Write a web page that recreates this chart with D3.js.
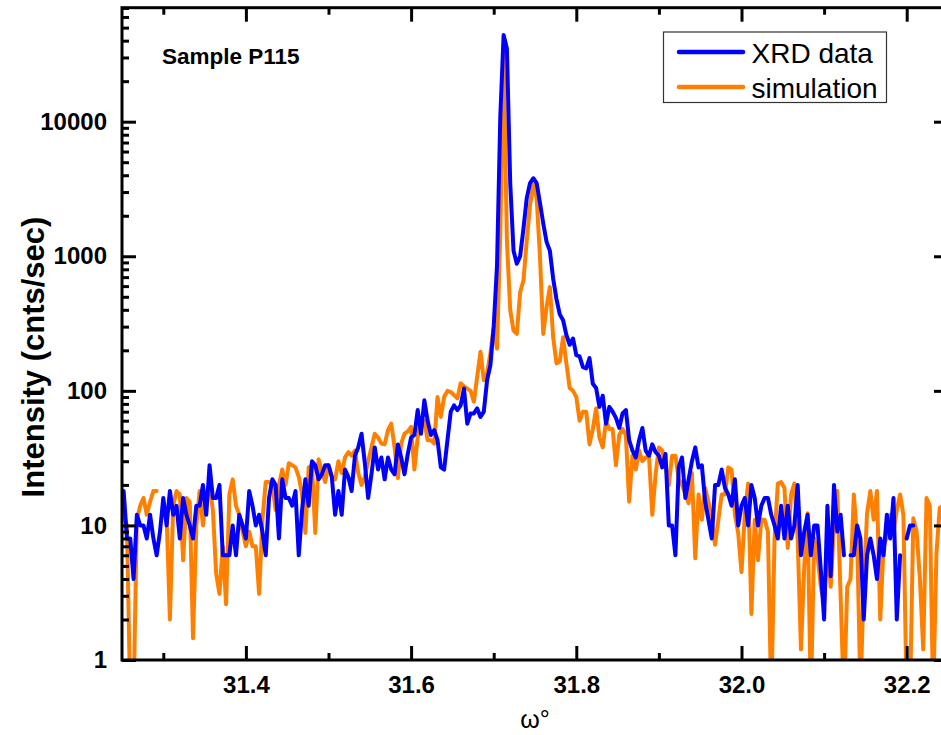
<!DOCTYPE html>
<html>
<head>
<meta charset="utf-8">
<script src="https://cdn.jsdelivr.net/npm/d3@7/dist/d3.min.js"></script>
<style>
  html, body { margin: 0; padding: 0; background: #fff; }
  svg { display: block; }
  text { font-family: "Liberation Sans", Arial, Helvetica, sans-serif; }
</style>
</head>
<body>
<svg id="chart" width="941" height="735"></svg>
<script>
// ω scan: first point and step (degrees)
const scanStart = 31.252;
const scanStep = 0.004;

// Measured XRD intensity (cnts/sec); null = zero counts
const xrdData = [
  18, 8, 8, 4, 12, 10, 10, 8, 12, 8,
  6, 9, 16, 10, 18, 12, 14, 8, 16, 12,
  10, 8, 14, 14, 20, 12, 28, 16, 16, 20,
  6, 6, 6, 10, 6, 12, 10, 8, 18, 14,
  10, 12, 9, 6, 16, 22, 20, 8, 22, 16,
  16, 14, 18, 6, 13, 22, 14, 30, 28, 22,
  24, 28, 28, 23, 12, 18, 12, 26, 23, 18,
  33, 38, 48, 29, 16, 24, 38, 26, 32, 22,
  32, 26, 24, 40, 32, 24, 34, 45, 47, 72,
  48, 85, 60, 47, 51, 43, 27, 26, 43, 70,
  78, 72, 78, 104, 57, 68, 68, 74, 64, 70,
  120, 155, 300, 850, 11000, 44000, 35000, 3500, 1100, 880,
  1000, 1600, 2700, 3500, 3800, 3500, 2500, 1750, 1280, 1100,
  680, 480, 370, 335, 260, 220, 245, 184, 180, 150,
  147, 175, 113, 105, 76, 92, 57, 76, 70, 63,
  53, 68, 72, 43, 36, 32, 43, 53, 36, 33,
  40, 35, 33, 27, 34, 10, 10, 6, 27, 32,
  16, 22, 30, 38, 27, 28, 15, 11, 8, 20,
  20, 26, 19, 17, 14, 22, 10, 14, 16, 10,
  20, 16, 10, 14, 16, 16, 12, 10, 8, 14,
  8, 14, 8, 10, 20, 6, 9, 12, 6, 10,
  10, 4.7, 2, 14, 4.2, 20, 9, 12, 6, null,
  6, 6, 10, 8, 2, 6, 8, 6, 4, 8,
  6, 12, 8, 16, 2, 6, null, 8, 10, 10
];

// Simulated intensity (cnts/sec); null = zero
const simData = [
  12, 10, 0.5, 0.5, 11, 14, 16, 12, 15, 18,
  18, null, 13, 12, 2, 14, 18, 17, 5.5, 16,
  15, 1.45, 10, 18, 10, 17, 20, 13, 4.4, 3.1,
  7, 2.6, 17, 22, 14, 12, 9, 7, 9, 7,
  7, 3.1, 11, 21, 21, 20, 13, 20, 26, 20,
  29, 28, 27, 23, 17, 8.8, 27, 28, 8.8, 31,
  25, 21, 28, 23, 22, 30, 24.5, 32, 35, 33,
  36, 24.5, 20, 23, 30, 38, 48, 45, 40.5, 40,
  51, 57, 38, 22.5, 40.5, 48, 50, 54, 26, 45,
  60, 60, 43, 43, 40.5, 90, 64, 90, 100, 98,
  93, 88, 114, 108, 104, 100, 83, 127, 195, 120,
  135, 190, 300, 206, 1500, 32000, 1300, 400, 280, 265,
  540, 660, 1300, 2400, 3400, 2700, 1000, 265, 420, 590,
  250, 160, 165, 250, 160, 105, 100, 90, 60, 70,
  70, 40, 52, 74, 45, 38, 60, 52, 52, 28,
  47, 52, 47, 15, 33, 26, 36, 30, 32, 33,
  12, 24, 38, 36, 28, 20, 33, 33, 22, 20,
  17, 14.6, 24.5, 5.7, 17, 11, 19, 15, 11, 7.2,
  11, 17, 17, 27, 26, 12, 8.8, 4.5, 12, 20.5,
  2.2, 11, 5.5, 11, 11, 9, 0.5, 8, 20.5, 21,
  19, 6.8, 17, 20.5, 8, 1.2, 5, 12.3, 0.5, 8,
  6, 3.5, 2.6, 7, 3.5, 10, 18, 3, 0.5, 3.5,
  4, 17, 8, 0.6, 3.5, 12.3, 18, 11, 18, 2,
  7, 8.2, 12, 9, 13, 17, 12, 0.5, 0.5, 11.3,
  9, 4, 1.2, 16, 14, 0.5, 6.2, 13.5, 14
];

// Axis ticks
const xMajorTicks = [31.4, 31.6, 31.8, 32.0, 32.2];
const xMinorTicks = [31.3, 31.5, 31.7, 31.9, 32.1];
const yMajorTicks = [1, 10, 100, 1000, 10000];
const yMinorTicks = [2, 3, 4, 5, 6, 7, 8, 9,
  20, 30, 40, 50, 60, 70, 80, 90,
  200, 300, 400, 500, 600, 700, 800, 900,
  2000, 3000, 4000, 5000, 6000, 7000, 8000, 9000,
  20000, 30000, 40000, 50000, 60000, 70000];

const seriesNames = ["XRD data", "simulation"];
const seriesColors = ["#0000ff", "#ff8000"];

const svg = d3.select("#chart");
const plot = { left: 122, right: 948, top: 7.7, bottom: 660 };

const x = d3.scaleLinear().domain([31.25, 32.25]).range([plot.left, plot.right]);
const y = d3.scaleLog().domain([1, 70300]).range([plot.bottom, plot.top]);

const toPoints = arr => arr.map((v, i) => ({ w: scanStart + i * scanStep, v }));

svg.append("rect").attr("width", 941).attr("height", 735).attr("fill", "#fff");

svg.append("defs").append("clipPath").attr("id", "plotClip")
  .append("rect")
  .attr("x", plot.left).attr("y", plot.top)
  .attr("width", plot.right - plot.left).attr("height", plot.bottom - plot.top);

const line = d3.line()
  .defined(d => d.v != null && d.v > 0)
  .x(d => x(d.w))
  .y(d => y(d.v));

const lines = svg.append("g").attr("clip-path", "url(#plotClip)");
// simulation underneath, measured data on top
lines.append("path")
  .datum(toPoints(simData))
  .attr("d", line)
  .attr("fill", "none")
  .attr("stroke", seriesColors[1])
  .attr("stroke-width", 4)
  .attr("stroke-linejoin", "round")
  .attr("stroke-linecap", "round");
lines.append("path")
  .datum(toPoints(xrdData))
  .attr("d", line)
  .attr("fill", "none")
  .attr("stroke", seriesColors[0])
  .attr("stroke-width", 4)
  .attr("stroke-linejoin", "round")
  .attr("stroke-linecap", "round");

// Axes (ticks point inward)
function styleAxis(g) {
  g.select(".domain").remove();
  g.selectAll(".tick line").attr("stroke", "#000").attr("stroke-width", 3);
}
const fmtX = d3.format(".1f");
const fmtY = d3.format("d");

// bottom
svg.append("g").attr("transform", `translate(0,${plot.bottom})`)
  .call(d3.axisBottom(x).tickValues(xMajorTicks).tickSize(-14).tickPadding(15.5).tickFormat(fmtX))
  .call(styleAxis)
  .call(g => g.selectAll(".tick text")
    .attr("fill", "#000").attr("font-size", 24).attr("font-weight", "bold")
    .attr("font-family", "'Liberation Sans', Arial, sans-serif"));
svg.append("g").attr("transform", `translate(0,${plot.bottom})`)
  .call(d3.axisBottom(x).tickValues(xMinorTicks).tickSize(-7).tickFormat(""))
  .call(styleAxis);
// top
svg.append("g").attr("transform", `translate(0,${plot.top})`)
  .call(d3.axisTop(x).tickValues(xMajorTicks).tickSize(-14).tickFormat(""))
  .call(styleAxis);
svg.append("g").attr("transform", `translate(0,${plot.top})`)
  .call(d3.axisTop(x).tickValues(xMinorTicks).tickSize(-7).tickFormat(""))
  .call(styleAxis);
// left
svg.append("g").attr("transform", `translate(${plot.left},0)`)
  .call(d3.axisLeft(y).tickValues(yMajorTicks).tickSize(-14).tickPadding(15).tickFormat(fmtY))
  .call(styleAxis)
  .call(g => g.selectAll(".tick text")
    .attr("fill", "#000").attr("font-size", 24).attr("font-weight", "bold")
    .attr("font-family", "'Liberation Sans', Arial, sans-serif"));
svg.append("g").attr("transform", `translate(${plot.left},0)`)
  .call(d3.axisLeft(y).tickValues(yMinorTicks).tickSize(-7).tickFormat(""))
  .call(styleAxis);
// right
svg.append("g").attr("transform", `translate(${plot.right},0)`)
  .call(d3.axisRight(y).tickValues(yMajorTicks).tickSize(-14).tickFormat(""))
  .call(styleAxis);
svg.append("g").attr("transform", `translate(${plot.right},0)`)
  .call(d3.axisRight(y).tickValues(yMinorTicks).tickSize(-7).tickFormat(""))
  .call(styleAxis);

// frame
svg.append("rect")
  .attr("x", plot.left).attr("y", plot.top)
  .attr("width", plot.right - plot.left).attr("height", plot.bottom - plot.top)
  .attr("fill", "none").attr("stroke", "#000").attr("stroke-width", 3);

// axis titles
svg.append("text")
  .attr("transform", `translate(44,357) rotate(-90)`)
  .attr("text-anchor", "middle")
  .attr("font-size", 31).attr("font-weight", "bold")
  .text("Intensity (cnts/sec)");
svg.append("text")
  .attr("x", (plot.left + plot.right) / 2).attr("y", 728)
  .attr("text-anchor", "middle")
  .attr("font-size", 25)
  .text("ω°");

// sample label
svg.append("text")
  .attr("x", 162).attr("y", 64)
  .attr("font-size", 22.5).attr("font-weight", "bold")
  .text("Sample P115");

// legend
const legend = svg.append("g");
legend.append("rect")
  .attr("x", 663.5).attr("y", 32).attr("width", 223).attr("height", 70.5)
  .attr("fill", "#fff").attr("stroke", "#333").attr("stroke-width", 1.2);
const legendRows = [52, 87];
seriesNames.forEach((name, k) => {
  legend.append("line")
    .attr("x1", 679).attr("x2", 743)
    .attr("y1", legendRows[k]).attr("y2", legendRows[k])
    .attr("stroke", seriesColors[k]).attr("stroke-width", 4.5)
    .attr("stroke-linecap", "round");
  legend.append("text")
    .attr("x", 751.5).attr("y", legendRows[k] + 10.5)
    .attr("font-size", 28)
    .text(name);
});
</script>
</body>
</html>
